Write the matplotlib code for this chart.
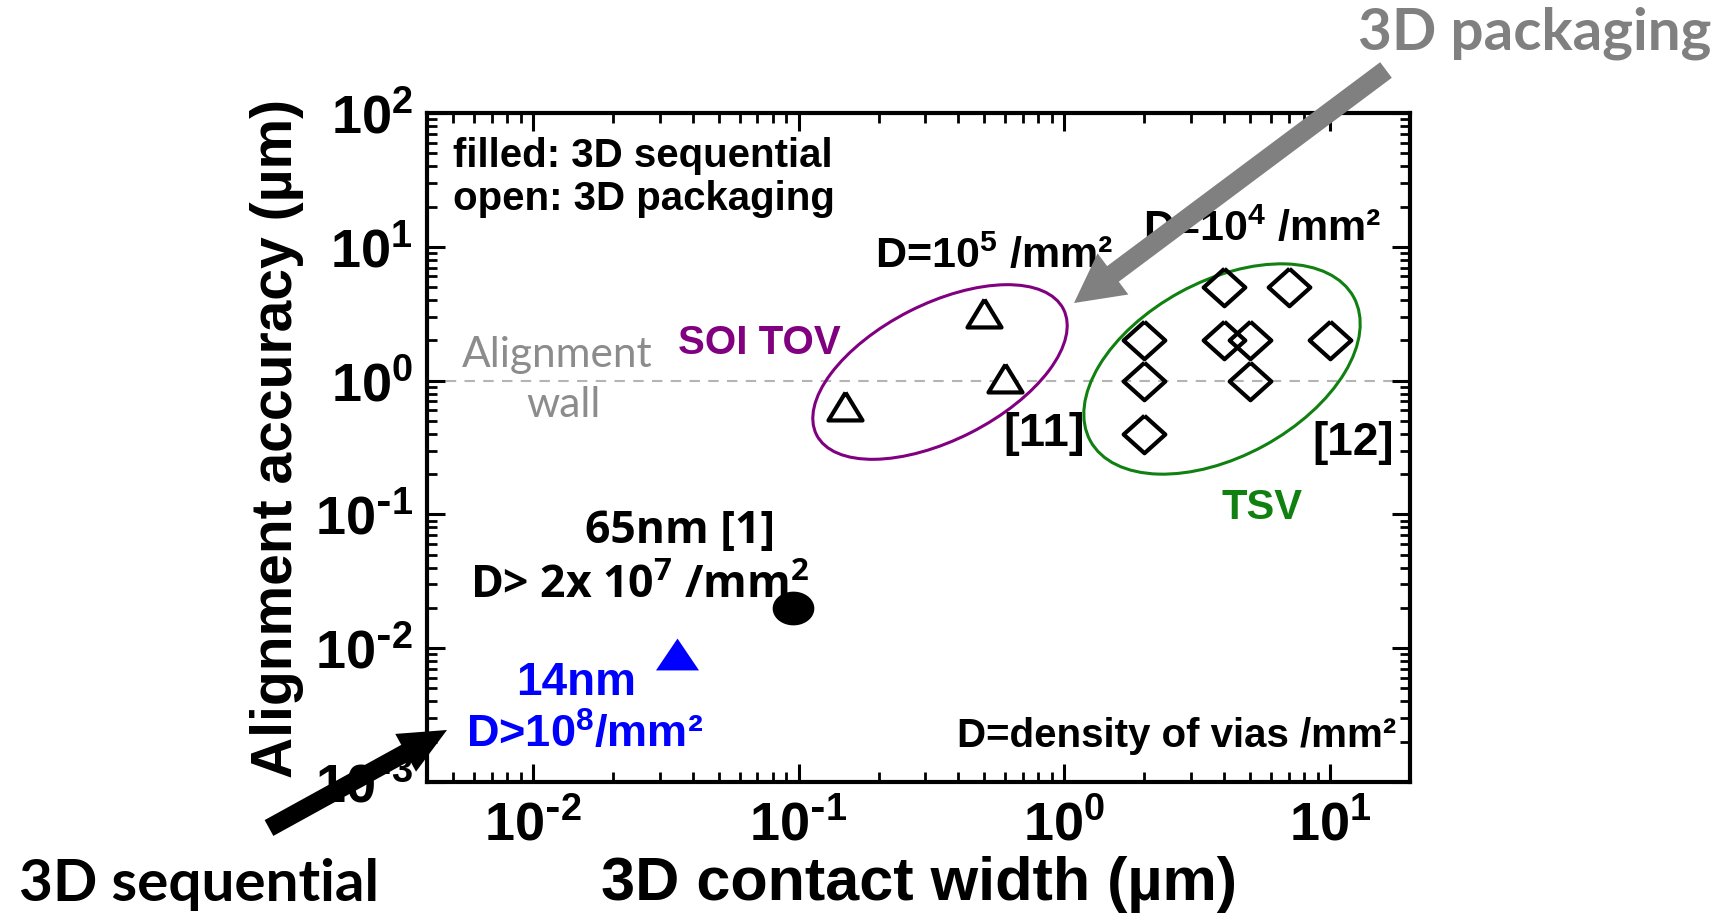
import numpy as np
import matplotlib
matplotlib.use("Agg")
import matplotlib.pyplot as plt
from matplotlib.patches import Ellipse, FancyArrowPatch
from matplotlib.ticker import LogLocator, FuncFormatter, NullFormatter

W, H = 1720, 913

plt.rcParams["font.family"] = ["Liberation Sans", "DejaVu Sans"]
plt.rcParams["font.weight"] = "bold"
plt.rcParams["mathtext.default"] = "regular"

# 3D sequential (filled)
seq65_x = [0.095]
seq65_y = [0.02]
seq14_x = [0.035]
seq14_y = [0.009]

# 3D packaging (open): SOI TOV [11] and TSV [12]
tov_x = [0.15, 0.5, 0.6]
tov_y = [0.65, 3.2, 1.05]
tsv_x = [2, 2, 2, 4, 7, 4, 5, 5, 10]
tsv_y = [2, 1, 0.4, 5, 5, 2, 2, 1, 2]

wall_y = 1.0

xlim = (0.004, 20)
ylim = (1e-3, 1e2)


def fx(px):
    return px / W


def fy(py):
    return 1 - py / H


def inch(px, py):
    return (px / 100, (H - py) / 100)


def pow10(v, pos):
    e = int(round(np.log10(v)))
    if e < 0:
        return r"$10^{\text{-}%d}$" % -e
    return r"$10^{%d}$" % e


# marker shapes (a bit squashed like the original)
tri_open = [(0, 0.82), (-1, -0.82), (1, -0.82), (0, 0.82)]
tri_fill = [(0, 0.74), (-1, -0.74), (1, -0.74), (0, 0.74)]
diamond = [(0, 0.9), (1, 0), (0, -0.9), (-1, 0), (0, 0.9)]
t = np.linspace(0, 2 * np.pi, 60)
blob = list(zip(np.cos(t), 0.81 * np.sin(t)))

fig = plt.figure(figsize=(W / 100, H / 100), dpi=100)
ax = fig.add_axes([427 / W, 1 - 782 / H, (1410 - 427) / W, (782 - 113) / H])
ax.set_xscale("log")
ax.set_yscale("log")
ax.set_xlim(*xlim)
ax.set_ylim(*ylim)

ax.axhline(wall_y, color="#b4b4b4", lw=1.5, dashes=(5, 4), zorder=1)

ax.plot(tov_x, tov_y, ls="none", marker=tri_open, ms=24.5, mfc="white",
        mec="black", mew=3, zorder=4)
ax.plot(tsv_x, tsv_y, ls="none", marker=diamond, ms=30, mfc="none",
        mec="black", mew=3, zorder=4)
ax.plot(seq65_x, seq65_y, ls="none", marker=blob, ms=30, mfc="black",
        mec="black", mew=0, zorder=4)
ax.plot(seq14_x, seq14_y, ls="none", marker=tri_fill, ms=31, mfc="blue",
        mec="blue", mew=0, zorder=4)

# ellipses round the two packaging groups
ax.add_patch(Ellipse(inch(940, 372), 2.77, 1.36, angle=27, fill=False,
                     ec="#800080", lw=2.2, transform=fig.dpi_scale_trans, zorder=3))
ax.add_patch(Ellipse(inch(1222, 369), 3.0, 1.75, angle=28.6, fill=False,
                     ec="#108010", lw=2.2, transform=fig.dpi_scale_trans, zorder=3))

ax.xaxis.set_major_locator(LogLocator(base=10, numticks=12))
ax.yaxis.set_major_locator(LogLocator(base=10, numticks=12))
ax.xaxis.set_minor_locator(LogLocator(base=10, subs=np.arange(2, 10), numticks=30))
ax.yaxis.set_minor_locator(LogLocator(base=10, subs=np.arange(2, 10), numticks=30))
ax.xaxis.set_major_formatter(FuncFormatter(pow10))
ax.yaxis.set_major_formatter(FuncFormatter(pow10))
ax.xaxis.set_minor_formatter(NullFormatter())
ax.yaxis.set_minor_formatter(NullFormatter())
ax.tick_params(which="major", direction="in", length=13, width=2.2,
               top=True, right=True, labelsize=39)
ax.tick_params(axis="x", which="major", pad=13)
ax.tick_params(axis="y", which="major", pad=10)
ax.tick_params(which="minor", direction="in", length=7, width=2,
               top=True, right=True)
for s in ax.spines.values():
    s.set_linewidth(3)

# axis titles
fig.text(fx(292), fy(438), "Alignment accuracy (µm)", fontsize=41,
         rotation=90, rotation_mode="anchor", ha="center", va="baseline")
fig.text(fx(919), fy(900), "3D contact width (µm)", fontsize=44,
         ha="center", va="baseline")

# notes inside the plot
fig.text(fx(453), fy(167), "filled: 3D sequential", fontsize=29, va="baseline")
fig.text(fx(453), fy(210), "open: 3D packaging", fontsize=29, va="baseline")
fig.text(fx(875), fy(268), "D=10$^5$ /mm²", fontsize=31, va="baseline")
fig.text(fx(1143), fy(241), "D=10$^4$ /mm²", fontsize=31, va="baseline")
fig.text(fx(678), fy(354), "SOI TOV", fontsize=29, color="#800080", va="baseline")
fig.text(fx(1003), fy(446), "[11]", fontsize=34, va="baseline")
fig.text(fx(1312), fy(455), "[12]", fontsize=33, va="baseline")
fig.text(fx(1222), fy(519), "TSV", fontsize=30, color="#108010", va="baseline")
fig.text(fx(557), fy(367), "Alignment", fontsize=30.5, color="#8c8c8c",
         family=["Lato", "DejaVu Sans"], fontweight="normal", ha="center", va="baseline")
fig.text(fx(563), fy(417), "wall", fontsize=30.5, color="#8c8c8c",
         family=["Lato", "DejaVu Sans"], fontweight="normal", ha="center", va="baseline")
fig.text(fx(680), fy(543), "65nm [1]", fontsize=32, fontweight="bold",
         family=["Open Sans", "DejaVu Sans"], ha="center", va="baseline")
fig.text(fx(470), fy(598), "D> 2x 10$^7$ /mm$^2$", fontsize=32, fontweight="bold",
         family=["Open Sans", "DejaVu Sans"], va="baseline")
fig.text(fx(516), fy(695), "14nm", fontsize=33, color="blue", va="baseline")
fig.text(fx(466), fy(748), "D>10$^8$/mm²", fontsize=32.5, color="blue", va="baseline")
fig.text(fx(957), fy(747), "D=density of vias /mm²", fontsize=29, va="baseline")

# the two category labels with arrows
fig.text(fx(1358), fy(50), "3D packaging", fontsize=42, color="#808080",
         family=["Lato", "DejaVu Sans"], fontweight="bold", va="baseline")
fig.text(fx(19), fy(901), "3D sequential", fontsize=42, color="black",
         family=["Lato", "DejaVu Sans"], fontweight="bold", va="baseline")

fig.add_artist(FancyArrowPatch(inch(1386, 70), inch(1074, 303),
                               arrowstyle="simple,head_length=35,head_width=37,tail_width=14",
                               mutation_scale=1, color="#808080", lw=0,
                               shrinkA=0, shrinkB=0, transform=fig.dpi_scale_trans,
                               zorder=10))
fig.add_artist(FancyArrowPatch(inch(269, 828), inch(447, 730),
                               arrowstyle="simple,head_length=34,head_width=31,tail_width=13",
                               mutation_scale=1, color="black", lw=0,
                               shrinkA=0, shrinkB=0, transform=fig.dpi_scale_trans,
                               zorder=10))

fig.savefig("out.png", dpi=100, facecolor="white")
